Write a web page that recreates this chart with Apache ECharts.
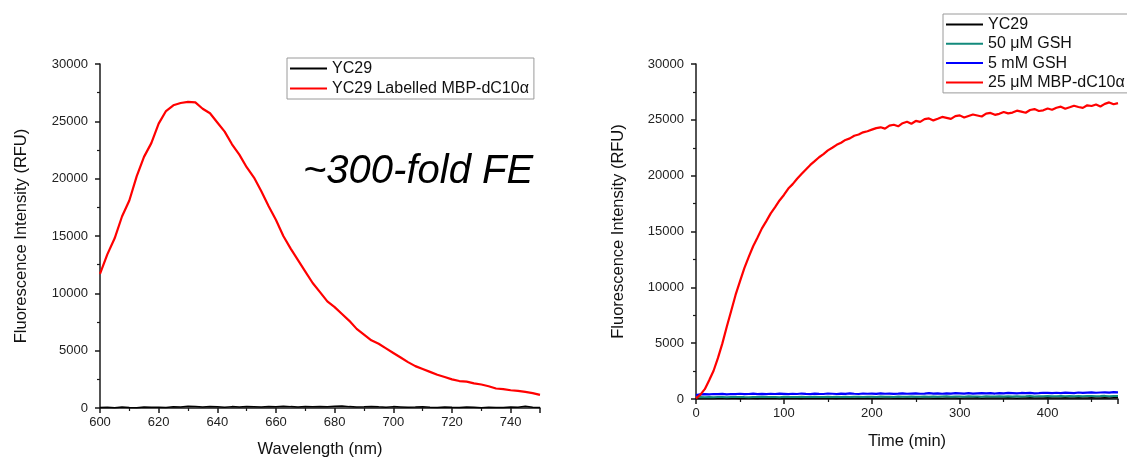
<!DOCTYPE html>
<html>
<head>
<meta charset="utf-8">
<script src="https://cdn.jsdelivr.net/npm/echarts@6/dist/echarts.min.js"></script>
<style>
html,body{margin:0;padding:0;background:#fff;}
#c{width:1127px;height:460px;}
</style>
</head>
<body>
<div id="c"></div>
<script>
// ---------- Left panel: emission spectrum ----------
var wavelengths = [600,602.5,605,607.5,610,612.5,615,617.5,620,622.5,625,627.5,630,632.5,635,637.5,640,642.5,645,647.5,650,652.5,655,657.5,660,662.5,665,667.5,670,672.5,675,677.5,680,682.5,685,687.5,690,692.5,695,697.5,700,702.5,705,707.5,710,712.5,715,717.5,720,722.5,725,727.5,730,732.5,735,737.5,740,742.5,745,747.5,750];
var spectrumLabelled = [11700,13400,14800,16700,18100,20200,21900,23100,24800,25900,26400,26600,26700,26650,26100,25700,24900,24100,23000,22100,21000,20100,18900,17600,16400,15000,13900,12900,11900,10900,10100,9300,8800,8200,7600,6900,6400,5900,5600,5200,4800,4400,4000,3650,3400,3150,2900,2700,2500,2350,2300,2150,2050,1900,1700,1650,1550,1500,1400,1300,1150];
var spectrumYC29 = [40,60,20,80,50,30,90,60,70,40,110,80,150,120,90,130,100,70,120,90,140,110,80,130,100,160,120,90,140,110,130,100,150,170,120,90,110,140,100,70,120,90,60,80,110,70,50,90,60,40,80,60,30,70,50,40,90,60,150,70,40];

// ---------- Right panel: kinetics (every 5 min, 0..480) ----------
var timeStep = 5;
var kinRed = [60,390,880,1680,2530,3680,4980,6470,7880,9320,
10530,11720,12730,13680,14470,15280,15930,16620,17180,17780,
18270,18850,19240,19720,20140,20560,20960,21300,21650,21930,
22260,22500,22760,22950,23200,23340,23580,23690,23880,23980,
24120,24260,24330,24210,24480,24560,24420,24700,24830,24650,
24900,24820,25060,25130,24950,25090,25260,25180,25080,25330,
25400,25210,25350,25480,25390,25300,25560,25620,25450,25540,
25700,25580,25650,25820,25740,25630,25880,25960,25790,25850,
26020,25900,26080,26180,25990,26120,26260,26150,26070,26300,
26240,26380,26200,26430,26560,26390,26500];
var kinBlue = [350,420,440,410,450,430,460,420,450,440,
470,430,450,480,440,460,430,470,450,480,
460,440,470,450,490,460,440,480,460,450,
490,470,450,480,460,500,470,450,490,470,
480,460,500,470,490,460,480,510,470,490,
500,470,490,520,480,500,470,510,490,520,
500,480,520,490,510,530,500,520,490,530,
510,540,520,500,540,520,550,510,530,560,
540,520,560,530,570,550,530,580,550,570,
590,560,580,600,570,610,590];
var kinTeal = [150,170,160,180,150,170,190,160,180,170,
190,170,160,190,180,200,170,190,180,160,
200,180,190,170,200,190,180,210,190,180,
200,190,210,180,200,190,210,200,180,210,
200,190,220,200,210,190,220,200,210,230,
210,200,220,210,230,200,220,240,210,220,
230,210,240,220,230,210,240,230,220,250,
230,240,220,250,230,240,260,230,250,240,
260,240,250,270,240,260,250,270,240,260,
270,250,260,280,250,270,260];
var kinBlack = [40,60,50,70,40,60,80,50,70,60,
50,80,60,70,50,90,60,70,80,50,
70,60,90,70,50,80,60,90,70,60,
80,70,50,90,60,80,70,100,60,80,
70,90,60,80,100,70,90,60,80,70,
90,70,100,80,60,90,70,100,80,90,
70,100,80,90,110,70,90,80,100,90,
80,110,90,70,100,80,110,90,100,80,
110,90,100,80,120,90,100,110,90,100,
120,100,90,110,100,120,110];

var leftLegend = ['YC29', 'YC29 Labelled MBP-dC10\u03b1'];
var rightLegend = ['YC29', '50 \u03bcM GSH', '5 mM GSH', '25 \u03bcM MBP-dC10\u03b1'];
var annotation = '~300-fold FE';

function pairs(xs, ys) { return ys.map(function (v, i) { return [xs[i], v]; }); }
var times = kinRed.map(function (_, i) { return i * timeStep; });

var FONT = '"Liberation Sans", Arial, sans-serif';
var axisLineStyle = { color: '#1a1a1a', width: 1.5 };
function yAxis(gridIndex, gap) {
  return {
    type: 'value', gridIndex: gridIndex, min: 0, max: 30000, interval: 5000,
    name: 'Fluorescence Intensity (RFU)', nameLocation: 'middle', nameGap: gap,
    nameTextStyle: { fontFamily: FONT, fontSize: 16.5, color: '#111' },
    axisLine: { show: true, lineStyle: axisLineStyle },
    axisTick: { show: true, length: 5, lineStyle: axisLineStyle },
    minorTick: { show: true, splitNumber: 2, length: 3, lineStyle: { color: '#1a1a1a', width: 1.2 } },
    splitLine: { show: false },
    axisLabel: { fontFamily: FONT, fontSize: 13, color: '#222', margin: 12, formatter: function (v) { return String(v); } }
  };
}
function xAxis(gridIndex, min, max, interval, name, hideVal, gap) {
  return {
    type: 'value', gridIndex: gridIndex, min: min, max: max, interval: interval,
    name: name, nameLocation: 'middle', nameGap: gap,
    nameTextStyle: { fontFamily: FONT, fontSize: 16.5, color: '#111' },
    axisLine: { show: true, onZero: false, lineStyle: axisLineStyle },
    axisTick: { show: true, length: 5, lineStyle: axisLineStyle },
    minorTick: { show: true, splitNumber: 2, length: 3, lineStyle: { color: '#1a1a1a', width: 1.2 } },
    splitLine: { show: false },
    axisLabel: { fontFamily: FONT, fontSize: 13, color: '#222', margin: 8,
      formatter: function (v) { return v === hideVal ? '' : String(v); } }
  };
}
function legend(data, left, top, gap) {
  return {
    data: data, left: left, top: top, orient: 'vertical',
    icon: 'rect', itemWidth: 37, itemHeight: 2, itemGap: gap,
    padding: [2, 5, 2, 3],
    borderColor: '#9a9a9a', borderWidth: 1, backgroundColor: '#fff',
    textStyle: { fontFamily: FONT, fontSize: 16, color: '#111', lineHeight: 17 },
    selectedMode: false
  };
}
function line(name, xi, data, color, width) {
  return {
    name: name, type: 'line', xAxisIndex: xi, yAxisIndex: xi, data: data,
    showSymbol: false, symbol: 'none', animation: false,
    lineStyle: { color: color, width: width }, itemStyle: { color: color }
  };
}

var chart = echarts.init(document.getElementById('c'), null, { renderer: 'canvas' });
chart.setOption({
  backgroundColor: '#fff',
  animation: false,
  grid: [
    { left: 100, top: 64, width: 440, height: 344, containLabel: false, outerBoundsMode: 'none' },
    { left: 696, top: 64, width: 422, height: 335, containLabel: false, outerBoundsMode: 'none' }
  ],
  xAxis: [
    xAxis(0, 600, 750, 20, 'Wavelength (nm)', 750, 33),
    xAxis(1, 0, 480, 100, 'Time (min)', 480, 34)
  ],
  yAxis: [ yAxis(0, 70), yAxis(1, 69) ],
  legend: [ legend(leftLegend, 287, 58, 3), legend(rightLegend, 943, 14, 2.3) ],
  series: [
    line(leftLegend[0], 0, pairs(wavelengths, spectrumYC29), '#000000', 1.5),
    line(leftLegend[1], 0, pairs(wavelengths, spectrumLabelled), '#ff0000', 2.2),
    line(rightLegend[0], 1, pairs(times, kinBlack), '#000000', 1.5),
    line(rightLegend[1], 1, pairs(times, kinTeal), '#138a7c', 2),
    line(rightLegend[2], 1, pairs(times, kinBlue), '#0000ff', 2.2),
    line(rightLegend[3], 1, pairs(times, kinRed), '#ff0000', 2.2)
  ],
  graphic: [{
    type: 'text', left: 303, top: 152,
    style: { text: annotation, font: 'italic 40px ' + FONT, fill: '#000' }
  }]
});
</script>
</body>
</html>
